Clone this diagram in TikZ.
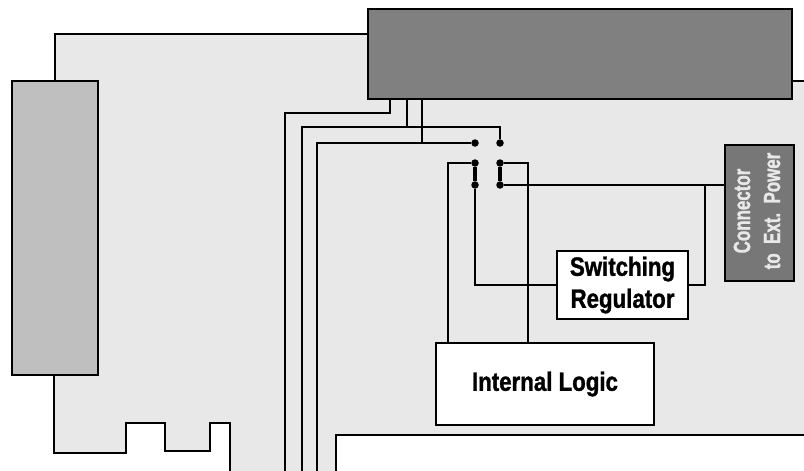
\documentclass[tikz,border=0pt]{standalone}
\usepackage{fontspec}
\usepackage{xcolor}
\setmainfont[FakeStretch=0.84, BoldFeatures={FakeBold=1.2}]{Liberation Sans}
\newfontfamily\narrowfont[FakeStretch=0.72, BoldFeatures={FakeBold=1.2}]{Liberation Sans}
\definecolor{hpboard}{HTML}{E8E8E8}
\definecolor{hpslot}{HTML}{BFBFBF}
\definecolor{hphost}{HTML}{808080}
\definecolor{hppower}{HTML}{777777}
\tikzset{
  wire/.style={draw=black, line width=1.9pt, line join=miter},
  blockbox/.style={draw=black, line width=1.9pt, fill=white, inner sep=0pt, align=center, font=\fontsize{26.5}{32}\selectfont\bfseries},
  pin/.style={circle, fill=black, minimum size=7.5pt, inner sep=0pt}
}
\begin{document}
\begin{tikzpicture}[x=1pt, y=-1pt]
  \useasboundingbox (0,0) rectangle (804,471);
  \fill[hpboard] (55,34) -- (400,34) -- (400,81) -- (810,81) -- (810,480) -- (230,480) -- (230,423) -- (210,423) -- (210,451) -- (165,451) -- (165,423) -- (126,423) -- (126,453) -- (54,453) -- (54,375) -- (55,34);
  \draw[wire] (368,34) -- (55,34) -- (55,81);
  \draw[wire] (780,81) -- (810,81);
  \draw[wire] (54,375) -- (54,453) -- (126,453) -- (126,423) -- (165,423) -- (165,451) -- (210,451) -- (210,423) -- (230,423) -- (230,480);
  \draw[wire, fill=white] (336,480) -- (336,435) -- (810,435) -- (810,480) -- cycle;
  \node[draw=black, line width=1.9pt, fill=hpslot, minimum width=86pt, minimum height=294pt, inner sep=0pt] (slot) at (55,228) {};
  \node[draw=black, line width=1.9pt, fill=hphost, minimum width=424pt, minimum height=90pt, inner sep=0pt] (host) at (580,54) {};
  \node[blockbox, minimum width=131pt, minimum height=68pt] (regulator) at (622.5,285) {Switching\\Regulator};
  \node[blockbox, minimum width=218pt, minimum height=82pt] (logic) at (545,384) {Internal Logic};
  \node[draw=black, line width=1.9pt, fill=hppower, minimum width=69pt, minimum height=136pt, inner sep=0pt] (power) at (759.5,213) {};
  \node[text=hpboard, rotate=90, align=center, inner sep=0pt, font=\narrowfont\fontsize{23.5}{30}\selectfont\bfseries] (powertext) at (757,211) {Connector\\to~~Ext.~~Power};
  \node[pin] (pa) at (475,143) {};
  \node[pin] (pb) at (500,143) {};
  \node[pin] (pc) at (475,163) {};
  \node[pin] (pd) at (500,163) {};
  \node[pin] (pe) at (475,185) {};
  \node[pin] (pf) at (500,185) {};
  \coordinate (buscol) at (285,480);
  \coordinate (bustwo) at (302,480);
  \coordinate (busthree) at (317,480);
  \coordinate (tapa) at (390,113);
  \coordinate (tapb) at (407,127);
  \coordinate (tapc) at (422,143);
  \coordinate (tie) at (705,185);
  \draw[wire] (buscol) |- (tapa) -- (tapa |- host.south);
  \draw[wire] (bustwo) |- (tapb) -- (tapb |- host.south);
  \draw[wire] (tapb) -| (pb);
  \draw[wire] (busthree) |- (tapc) -- (tapc |- host.south);
  \draw[wire] (tapc) -- (pa);
  \draw[line width=3.5pt] (pc) -- (pe);
  \draw[line width=3.5pt] (pd) -- (pf);
  \draw[wire] (pc) -| (448,0 |- logic.north);
  \draw[wire] (pd) -| (528,0 |- logic.north);
  \draw[wire] (pe) |- (regulator.west);
  \draw[wire] (pf) -- (power.west |- pf);
  \draw[wire] (regulator.east) -| (tie);
\end{tikzpicture}
\end{document}
